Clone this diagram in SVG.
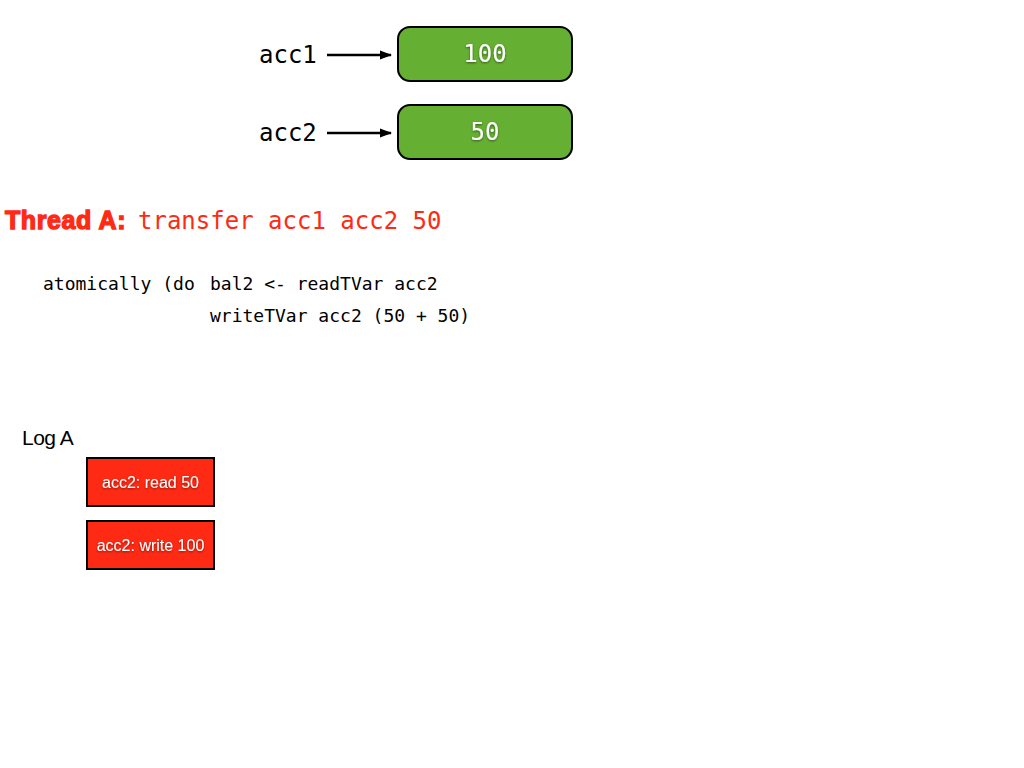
<svg xmlns="http://www.w3.org/2000/svg" width="1024" height="768" viewBox="0 0 1024 768">
<style>
.mono{font-family:"DejaVu Sans Mono","Liberation Mono",monospace}
.lbl{font-size:24px;fill:#000}
.var{fill:#65AF32;stroke:#000;stroke-width:2}
.val{font-size:24px;fill:#fff;text-anchor:middle}
.code{font-size:18px;fill:#000}
.red{fill:#FF2A14}
.log{fill:#FF2A14;stroke:#000;stroke-width:2}
.logt{font-family:"Liberation Sans",Arial,sans-serif;font-size:16px;fill:#fff;text-anchor:middle}
.conn{stroke:#000;stroke-width:2.5;fill:none}
</style>
<defs>
<marker id="ah" markerWidth="12" markerHeight="12" refX="11" refY="6" orient="auto" markerUnits="userSpaceOnUse">
<path d="M0,1.5 L12,6 L0,10.5 Z" fill="#000"/>
</marker>
<filter id="sh" x="-10%" y="-10%" width="120%" height="130%">
<feDropShadow dx="0" dy="1" stdDeviation="0.8" flood-color="#000" flood-opacity="0.5"/>
</filter>
</defs>
<rect width="1024" height="768" fill="#fff"/>
<g id="acc1-label"><text class="mono lbl" x="259" y="63">acc1</text></g>
<g id="acc2-label"><text class="mono lbl" x="259" y="141">acc2</text></g>
<g id="acc1-box"><rect class="var" x="398" y="27" width="174" height="54" rx="12"/><text class="mono val" x="485" y="62" filter="url(#sh)">100</text></g>
<g id="acc2-box"><rect class="var" x="398" y="105" width="174" height="54" rx="12"/><text class="mono val" x="485" y="140" filter="url(#sh)">50</text></g>
<g id="connectors">
<line class="conn" x1="327" y1="55" x2="391" y2="55" marker-end="url(#ah)"/>
<line class="conn" x1="327" y1="133" x2="391" y2="133" marker-end="url(#ah)"/>
</g>
<g id="title">
<text x="5" y="229" font-family="Liberation Sans,Arial,sans-serif" font-weight="bold" font-size="25" letter-spacing="0.6" class="red" stroke="#FF2A14" stroke-width="1.3">Thread A:</text>
<text class="mono red" x="138" y="229" font-size="24">transfer acc1 acc2 50</text>
</g>
<g id="code">
<text class="mono code" x="43" y="290">atomically (do</text>
<text class="mono code" x="210" y="290">bal2 &lt;- readTVar acc2</text>
<text class="mono code" x="210" y="322">writeTVar acc2 (50 + 50)</text>
</g>
<g id="log-label"><text x="22" y="445" font-family="Liberation Sans,Arial,sans-serif" font-size="21" letter-spacing="-0.5">Log A</text></g>
<g id="log-read"><rect class="log" x="87" y="458" width="127" height="48"/><text class="logt" x="150.5" y="488" filter="url(#sh)">acc2:  read 50</text></g>
<g id="log-write"><rect class="log" x="87" y="521" width="127" height="48"/><text class="logt" x="150.5" y="551" filter="url(#sh)">acc2:  write 100</text></g>
</svg>
